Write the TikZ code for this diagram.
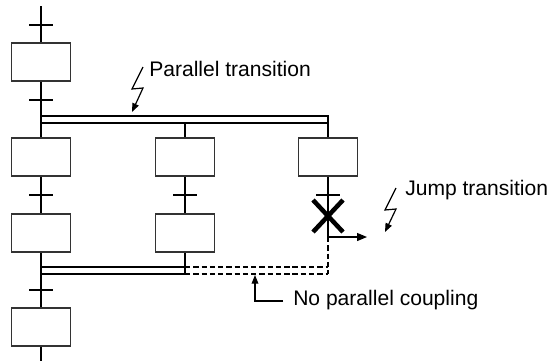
\documentclass[tikz,border=0pt]{standalone}
\usepackage{fontspec}
\setmainfont{Liberation Sans}
\usetikzlibrary{arrows.meta,calc}

\begin{document}
\begin{tikzpicture}[
    x=0.75pt, y=-0.75pt,
    stepbox/.style={draw=black!80, line width=1.2pt, minimum width=44.25pt, minimum height=28.5pt, inner sep=0pt},
    trans/.style={fill=black, minimum width=18pt, minimum height=1.5pt, inner sep=0pt},
    link/.style={line width=1.7pt},
    dbl/.style={line width=1.5pt},
    dsh/.style={line width=0.8pt, dash pattern=on 4pt off 2.2pt},
    bolt/.style={line width=0.9pt, -{Triangle[length=6.5pt,width=5pt]}},
    lbl/.style={anchor=base west, inner sep=0pt, font=\fontsize{15.8}{18}\selectfont}
]
\useasboundingbox (0,0) rectangle (548,361);

% steps
\node[stepbox] (s1) at (41,62) {};
\node[stepbox] (s2) at (41,157) {};
\node[stepbox] (s3) at (185,157) {};
\node[stepbox] (s4) at (328,157) {};
\node[stepbox] (s5) at (41,233) {};
\node[stepbox] (s6) at (185,233) {};
\node[stepbox] (s7) at (41,327) {};

% transitions
\node[trans] (t0) at (41,25) {};
\node[trans] (t1) at (41,100) {};
\node[trans] (t2) at (41,195) {};
\node[trans] (t3) at (185,195) {};
\node[trans] (t4) at (328,195) {};
\node[trans] (t5) at (41,290) {};

\coordinate (top) at (41,6);
\coordinate (bot) at (41,361);
\coordinate (p1) at (41,116);
\coordinate (p2) at (328,116);
\coordinate (p3) at (41,123);
\coordinate (p4) at (328,123);
\coordinate (c2) at (185,123);
\coordinate (q1) at (41,267);
\coordinate (q2) at (185,267);
\coordinate (q3) at (41,274);
\coordinate (q4) at (185,274);
\coordinate (r1) at (328,267);
\coordinate (r2) at (328,274);
\coordinate (j) at (328,237);
\coordinate (jend) at (367,237);
\coordinate (xc) at (328,216);

% left column
\draw[link] (top) -- (s1.north);
\draw[link] (s1.south) -- (s2.north);
\draw[link] (s2.south) -- (s5.north);
\draw[link] (s5.south) -- (s7.north);
\draw[link] (s7.south) -- (bot);

% branches
\draw[link] (c2) -- (s3.north);
\draw[link] (p4) -- (s4.north);
\draw[link] (s3.south) -- (s6.north);
\draw[link] (s6.south) -- (q4);
\draw[link] (s4.south) -- (t4);
\draw[line width=0.9pt] (t4) -- (j);

% parallel branch / coupling
\draw[dbl] (p1) -- (p2) -- (p4) -- (p3);
\draw[dbl] (q1) -- (q2);
\draw[dbl] (q3) -- (q4);
\draw[dsh] (q2) -- (r1);
\draw[dsh] (q4) -- (r2);
\draw[dsh] (j) -- (r2);

% jump
\draw[line width=3.4pt] ($(xc)+(-15,-16)$) -- ($(xc)+(15,16)$);
\draw[line width=3.4pt] ($(xc)+(-15,16)$) -- ($(xc)+(15,-16)$);
\draw[line width=0.9pt, -{Triangle[length=7.5pt,width=6pt]}] (j) -- (jend);

% labels
\node[lbl] (par) at (149,76) {Parallel transition};
\node[lbl] (jmp) at (405,195) {Jump transition};
\node[lbl] (npc) at (293,305) {No parallel coupling};

\coordinate (pz) at (143,67);
\draw[bolt] (pz) -- ++(-11,22) -- ++(11,-1) -- ++(-11,24);
\coordinate (jz) at (396,188);
\draw[bolt] (jz) -- ++(-11,22) -- ++(11,-1) -- ++(-11,23);
\coordinate (nz) at (283,301);
\draw[bolt] (nz) -- ++(-28,0) -- ++(0,-26);
\end{tikzpicture}
\end{document}
